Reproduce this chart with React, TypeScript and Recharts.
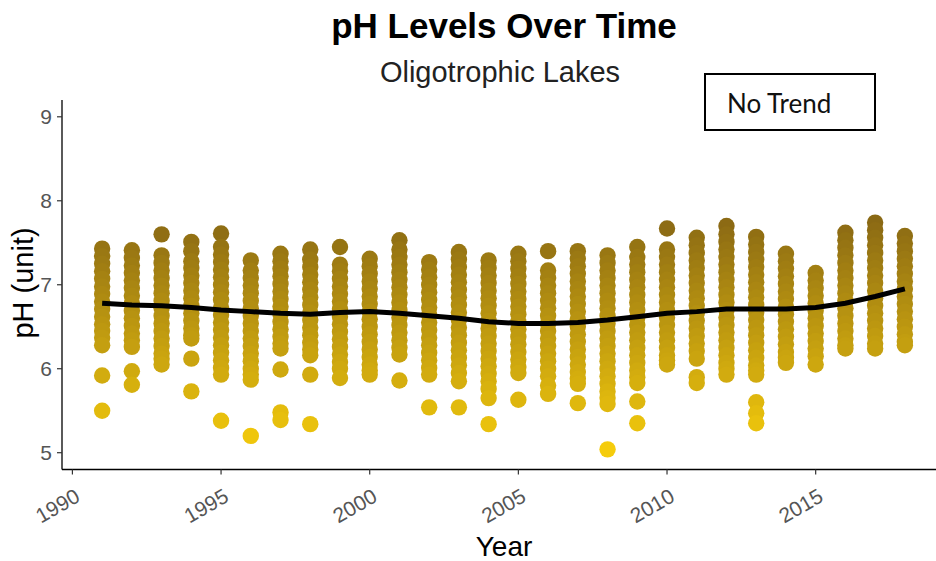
import React from "react";
import { ScatterChart, Scatter, XAxis, YAxis } from "recharts";

// ---- data ----
const YEARS = [1991, 1992, 1993, 1994, 1995, 1996, 1997, 1998, 1999, 2000, 2001, 2002, 2003, 2004, 2005, 2006, 2007, 2008, 2009, 2010, 2011, 2012, 2013, 2014, 2015, 2016, 2017, 2018];

const PH_1991 = [7.43, 7.34, 7.25, 7.16, 7.07, 6.98, 6.89, 6.8, 6.71, 6.62, 6.53, 6.45, 6.37, 6.28, 5.92, 5.5];
const PH_1992 = [7.41, 7.32, 7.23, 7.14, 7.05, 6.96, 6.87, 6.78, 6.69, 6.6, 6.51, 6.42, 6.34, 6.26, 5.97, 5.81];
const PH_1993 = [7.6, 7.35, 7.26, 7.17, 7.08, 6.99, 6.9, 6.81, 6.72, 6.63, 6.54, 6.45, 6.36, 6.27, 6.18, 6.12, 6.05];
const PH_1994 = [7.51, 7.4, 7.28, 7.2, 7.11, 7.02, 6.93, 6.84, 6.75, 6.66, 6.57, 6.48, 6.4, 6.36, 6.12, 5.73];
const PH_1995 = [7.61, 7.45, 7.36, 7.27, 7.18, 7.09, 7.0, 6.91, 6.82, 6.73, 6.64, 6.55, 6.46, 6.37, 6.28, 6.19, 6.1, 6.01, 5.93, 5.38];
const PH_1996 = [7.29, 7.17, 7.08, 6.99, 6.9, 6.81, 6.72, 6.63, 6.54, 6.45, 6.36, 6.27, 6.18, 6.09, 6.0, 5.93, 5.87, 5.2];
const PH_1997 = [7.37, 7.28, 7.19, 7.1, 7.01, 6.92, 6.83, 6.74, 6.65, 6.56, 6.47, 6.38, 6.3, 6.24, 5.99, 5.48, 5.39];
const PH_1998 = [7.42, 7.3, 7.21, 7.12, 7.03, 6.94, 6.85, 6.76, 6.67, 6.58, 6.49, 6.4, 6.31, 6.23, 6.16, 5.93, 5.34];
const PH_1999 = [7.45, 7.24, 7.16, 7.07, 6.98, 6.89, 6.8, 6.71, 6.62, 6.53, 6.44, 6.35, 6.26, 6.17, 6.08, 6.0, 5.89];
const PH_2000 = [7.31, 7.22, 7.13, 7.04, 6.95, 6.86, 6.77, 6.68, 6.59, 6.5, 6.41, 6.32, 6.23, 6.14, 6.05, 5.98, 5.93];
const PH_2001 = [7.53, 7.42, 7.33, 7.24, 7.15, 7.06, 6.97, 6.88, 6.79, 6.7, 6.61, 6.52, 6.43, 6.34, 6.25, 6.17, 5.86];
const PH_2002 = [7.27, 7.18, 7.09, 7.0, 6.91, 6.82, 6.73, 6.64, 6.55, 6.46, 6.37, 6.28, 6.19, 6.1, 6.01, 5.93, 5.54];
const PH_2003 = [7.39, 7.3, 7.21, 7.12, 7.03, 6.94, 6.85, 6.76, 6.67, 6.58, 6.49, 6.4, 6.31, 6.22, 6.13, 6.04, 5.95, 5.85, 5.54];
const PH_2004 = [7.29, 7.2, 7.11, 7.02, 6.93, 6.84, 6.75, 6.66, 6.57, 6.48, 6.39, 6.3, 6.21, 6.12, 6.03, 5.94, 5.85, 5.76, 5.65, 5.34];
const PH_2005 = [7.37, 7.28, 7.19, 7.1, 7.01, 6.92, 6.83, 6.74, 6.65, 6.56, 6.47, 6.38, 6.29, 6.2, 6.11, 6.02, 5.95, 5.63];
const PH_2006 = [7.4, 7.17, 7.08, 6.99, 6.9, 6.81, 6.72, 6.63, 6.54, 6.45, 6.36, 6.27, 6.18, 6.09, 6.0, 5.91, 5.8, 5.7];
const PH_2007 = [7.4, 7.31, 7.22, 7.13, 7.04, 6.95, 6.86, 6.77, 6.68, 6.59, 6.5, 6.41, 6.32, 6.23, 6.14, 6.05, 5.96, 5.88, 5.82, 5.59];
const PH_2008 = [7.35, 7.26, 7.17, 7.08, 6.99, 6.9, 6.81, 6.72, 6.63, 6.54, 6.45, 6.36, 6.27, 6.18, 6.09, 6.0, 5.91, 5.82, 5.73, 5.65, 5.58, 5.04];
const PH_2009 = [7.45, 7.33, 7.24, 7.15, 7.06, 6.97, 6.88, 6.79, 6.7, 6.61, 6.52, 6.43, 6.34, 6.25, 6.16, 6.07, 5.98, 5.9, 5.83, 5.61, 5.35];
const PH_2010 = [7.67, 7.42, 7.33, 7.24, 7.15, 7.06, 6.97, 6.88, 6.79, 6.7, 6.61, 6.52, 6.43, 6.34, 6.25, 6.16, 6.1, 6.05];
const PH_2011 = [7.56, 7.47, 7.38, 7.29, 7.2, 7.11, 7.02, 6.93, 6.84, 6.75, 6.66, 6.57, 6.48, 6.39, 6.3, 6.21, 6.12, 5.9, 5.83];
const PH_2012 = [7.7, 7.6, 7.51, 7.42, 7.33, 7.24, 7.15, 7.06, 6.97, 6.88, 6.79, 6.7, 6.61, 6.52, 6.43, 6.34, 6.25, 6.16, 6.07, 6.0, 5.93];
const PH_2013 = [7.57, 7.48, 7.39, 7.3, 7.21, 7.12, 7.03, 6.94, 6.85, 6.76, 6.67, 6.58, 6.49, 6.4, 6.31, 6.22, 6.13, 6.04, 5.98, 5.93, 5.6, 5.47, 5.35];
const PH_2014 = [7.37, 7.28, 7.19, 7.1, 7.01, 6.92, 6.83, 6.74, 6.65, 6.56, 6.47, 6.38, 6.29, 6.2, 6.13, 6.07];
const PH_2015 = [7.14, 7.05, 6.96, 6.87, 6.78, 6.69, 6.6, 6.51, 6.42, 6.33, 6.24, 6.15, 6.05];
const PH_2016 = [7.62, 7.53, 7.44, 7.35, 7.26, 7.17, 7.08, 6.99, 6.9, 6.81, 6.72, 6.63, 6.54, 6.45, 6.36, 6.28, 6.24];
const PH_2017 = [7.74, 7.65, 7.56, 7.47, 7.38, 7.29, 7.2, 7.11, 7.02, 6.93, 6.84, 6.75, 6.66, 6.57, 6.48, 6.39, 6.3, 6.24];
const PH_2018 = [7.58, 7.49, 7.4, 7.31, 7.22, 7.13, 7.04, 6.95, 6.86, 6.77, 6.68, 6.59, 6.5, 6.41, 6.32, 6.28];

const PH_BY_YEAR = [PH_1991, PH_1992, PH_1993, PH_1994, PH_1995, PH_1996, PH_1997, PH_1998, PH_1999, PH_2000, PH_2001, PH_2002, PH_2003, PH_2004, PH_2005, PH_2006, PH_2007, PH_2008, PH_2009, PH_2010, PH_2011, PH_2012, PH_2013, PH_2014, PH_2015, PH_2016, PH_2017, PH_2018];

// smoothed trend (loess) per year
const SMOOTH_PH = [6.78, 6.76, 6.75, 6.73, 6.7, 6.68, 6.66, 6.65, 6.67, 6.68, 6.66, 6.63, 6.6, 6.56, 6.54, 6.54, 6.55, 6.58, 6.62, 6.66, 6.68, 6.71, 6.71, 6.71, 6.73, 6.78, 6.86, 6.95];

const X_TICKS = [1990, 1995, 2000, 2005, 2010, 2015];
const Y_TICKS = [5, 6, 7, 8, 9];

const TITLE = "pH Levels Over Time";
const SUBTITLE = "Oligotrophic Lakes";
const X_TITLE = "Year";
const Y_TITLE = "pH (unit)";
const NOTE = "No Trend";

// ---- derived tables ----
const points = YEARS.flatMap((yr, i) => PH_BY_YEAR[i].map((v) => ({ year: yr, ph: v })));
const smooth = YEARS.map((yr, i) => ({ year: yr, ph: SMOOTH_PH[i] }));

const allPh = points.map((p) => p.ph);
const PH_MIN = Math.min(...allPh);
const PH_MAX = Math.max(...allPh);
const LOW = [245, 204, 12];
const HIGH = [138, 105, 20];
const colorFor = (v: number) => {
  const t = (v - PH_MIN) / (PH_MAX - PH_MIN);
  const c = LOW.map((l, k) => Math.round(l + (HIGH[k] - l) * t));
  return `rgb(${c[0]},${c[1]},${c[2]})`;
};

const FONT = "'Liberation Sans', Arial, sans-serif";

const Dot = (props: any) => {
  const { cx, cy, payload } = props;
  if (cx == null || cy == null) return <g />;
  return <circle cx={cx} cy={cy} r={8.2} fill={colorFor(payload.ph)} />;
};

const NoShape = () => <g />;

const XTick = (props: any) => {
  const { x, y, payload } = props;
  const tx = x + 9;
  const ty = y + 24;
  return (
    <text
      x={tx}
      y={ty}
      textAnchor="end"
      transform={`rotate(-30, ${tx}, ${ty})`}
      fontFamily={FONT}
      fontSize={21}
      fill="#555"
    >
      {payload.value}
    </text>
  );
};

export default function App() {
  return (
    <div
      style={{
        position: "absolute",
        left: 0,
        top: 0,
        width: 936,
        height: 561,
        overflow: "hidden",
        background: "#fff",
      }}
    >
      <ScatterChart width={960} height={561} margin={{ top: 100, right: 15, bottom: 31.5, left: 12 }}>
        <XAxis
          type="number"
          dataKey="year"
          domain={[1989.65, 2019.35]}
          ticks={X_TICKS}
          allowDataOverflow
          height={60}
          tickSize={5}
          tickLine={{ stroke: "#333", strokeWidth: 1.2 }}
          axisLine={{ stroke: "#000", strokeWidth: 1.3 }}
          tick={<XTick />}
        />
        <YAxis
          type="number"
          dataKey="ph"
          domain={[4.8, 9.2]}
          ticks={Y_TICKS}
          allowDataOverflow
          width={50}
          tickSize={5}
          tickMargin={5}
          tickLine={{ stroke: "#333", strokeWidth: 1.2 }}
          axisLine={{ stroke: "#000", strokeWidth: 1.3 }}
          tick={{ fill: "#555", fontSize: 21, fontFamily: FONT }}
        />
        <Scatter data={points} shape={Dot} isAnimationActive={false} />
        <Scatter
          data={smooth}
          shape={NoShape}
          line={{ stroke: "#000", strokeWidth: 5 }}
          lineType="joint"
          isAnimationActive={false}
        />
      </ScatterChart>
      <svg
        width={936}
        height={561}
        style={{ position: "absolute", left: 0, top: 0, pointerEvents: "none" }}
      >
        <text x={504} y={38} textAnchor="middle" fontFamily={FONT} fontWeight="bold" fontSize={35} fill="#000">
          {TITLE}
        </text>
        <text x={500} y={82} textAnchor="middle" fontFamily={FONT} fontSize={29} fill="#222">
          {SUBTITLE}
        </text>
        <rect x={705} y={74} width={170} height={56} fill="#fff" stroke="#000" strokeWidth={2} />
        <text x={727} y={113} fontFamily="Lato, 'Open Sans', sans-serif" fontSize={26} fill="#111">
          {NOTE}
        </text>
        <text x={504} y={556} textAnchor="middle" fontFamily={FONT} fontSize={28} fill="#000">
          {X_TITLE}
        </text>
        <text
          x={33}
          y={283}
          textAnchor="middle"
          transform="rotate(-90, 33, 283)"
          fontFamily={FONT}
          fontSize={29}
          fill="#000"
        >
          {Y_TITLE}
        </text>
      </svg>
    </div>
  );
}
